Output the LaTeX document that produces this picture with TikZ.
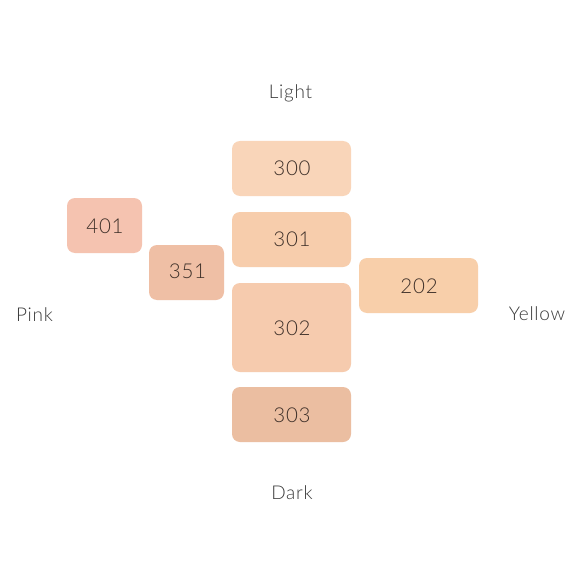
\documentclass[tikz,border=0pt]{standalone}
\usepackage{fontspec}
\setmainfont{Lato Light}[LetterSpace=4]
\definecolor{cA}{HTML}{F9D5B9}
\definecolor{cB}{HTML}{F7CDAC}
\definecolor{cC}{HTML}{F6CBAE}
\definecolor{cD}{HTML}{EBBEA1}
\definecolor{cE}{HTML}{F8CFAA}
\definecolor{cF}{HTML}{F5C3B0}
\definecolor{cG}{HTML}{EFBFA5}
\definecolor{numc}{HTML}{3E3029}
\definecolor{labc}{HTML}{3A3A3A}
\begin{document}
\begin{tikzpicture}[x=1pt,y=-1pt,
  shade/.style={rounded corners=8pt},
  numtext/.style={text=numc,font=\fontsize{20.5}{20.5}\selectfont,inner sep=0pt},
  labtext/.style={text=labc,font=\fontsize{19}{19}\selectfont,inner sep=0pt}]
\useasboundingbox (0,0) rectangle (580,580);
\fill[white] (0,0) rectangle (580,580);
\fill[cA,shade] (232,141) rectangle (351,196);
\fill[cB,shade] (232,212) rectangle (351,267);
\fill[cC,shade] (232,283) rectangle (351,372);
\fill[cD,shade] (232,387) rectangle (351,442);
\fill[cE,shade] (359,258) rectangle (478,313);
\fill[cF,shade] (67,198) rectangle (142,253);
\fill[cG,shade] (149,245) rectangle (224,300);
\node[numtext] (n300) at (292,168.5) {300};
\node[numtext] (n301) at (292,239.5) {301};
\node[numtext] (n302) at (292,328) {302};
\node[numtext] (n303) at (292,415.5) {303};
\node[numtext] (n202) at (419,286) {202};
\node[numtext] (n401) at (105,226) {401};
\node[numtext] (n351) at (187.5,271.5) {351};
\node[labtext,anchor=base] (light) at (290.5,99) {Light};
\node[labtext,anchor=base] (dark) at (292,499) {Dark};
\node[labtext,anchor=base] (pink) at (34.5,321) {Pink};
\node[labtext,anchor=base] (yellow) at (537,320) {Yellow};
\end{tikzpicture}
\end{document}
